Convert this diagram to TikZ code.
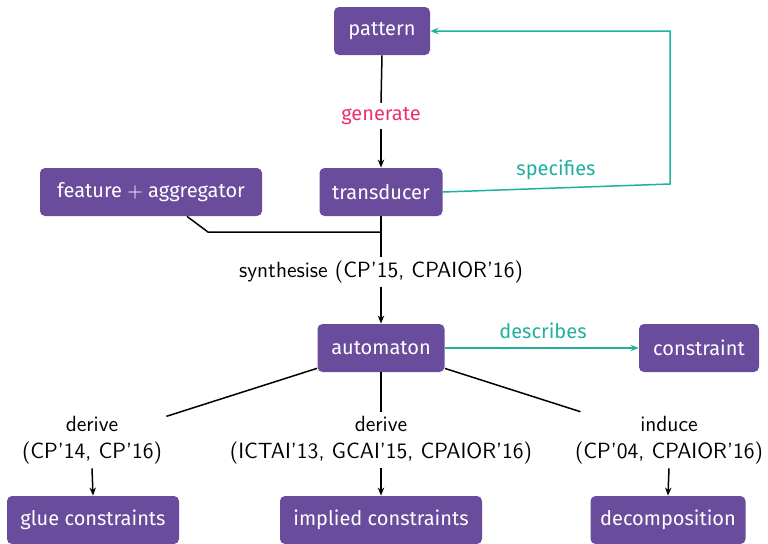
\documentclass[tikz,border=0pt]{standalone}
\usepackage{fontspec}
\newfontfamily\fira{Fira Sans}
\usetikzlibrary{arrows.meta}
\definecolor{purp}{RGB}{106,76,156}
\definecolor{tealc}{RGB}{32,176,158}
\definecolor{pinkc}{RGB}{236,48,108}
\begin{document}
\begin{tikzpicture}[x=0.5pt,y=-0.5pt,
  box/.style={fill=purp, text=white, rounded corners=2.5pt, minimum height=24pt,
    inner xsep=2pt, font=\fira\fontsize{10}{12}\selectfont},
  lbl/.style={font=\sffamily\fontsize{11}{13.5}\selectfont, align=center, inner sep=2pt},
  clbl/.style={font=\fira\fontsize{10}{12}\selectfont, inner sep=2pt},
  arr/.style={-{Stealth[length=4pt,width=3.2pt]}},
  ln/.style={line width=0.75pt, black},
  tl/.style={line width=0.75pt, tealc}]
\useasboundingbox (0,0) rectangle (768,543);
% boxes
\node[box, minimum width=48pt] (pattern) at (382,31) {pattern};
\node[box, minimum width=61.5pt] (trans) at (381,192) {transducer};
\node[box, minimum width=111pt] (feat) at (151,192) {feature $+$ aggregator};
\node[box, minimum width=63.5pt] (auto) at (381,348) {automaton};
\node[box, minimum width=60pt] (cons) at (699,348) {constraint};
\node[box, minimum width=86pt] (glue) at (93,520) {glue constraints};
\node[box, minimum width=101pt] (impl) at (381,520) {implied constraints};
\node[box, minimum width=77.5pt] (decomp) at (668,520) {decomposition};
% labels
\node[clbl, text=pinkc] (gen) at (381,116) {generate};
\node[lbl] (synth) at (381,272) {synthesise (CP'15, CPAIOR'16)};
\node[lbl] (lleft) at (92,440) {derive\\(CP'14, CP'16)};
\node[lbl] (lmid) at (381,440) {derive\\(ICTAI'13, GCAI'15, CPAIOR'16)};
\node[lbl] (lright) at (669,440) {induce\\(CP'04, CPAIOR'16)};
\node[clbl, text=tealc] (spec) at (556,170) {specifies};
\node[clbl, text=tealc] (desc) at (543,331) {describes};
% coordinates
\coordinate (k) at (208,232);
\coordinate (j) at (381,232);
\coordinate (c1) at (670,184);
\coordinate (c2) at (670,31);
% connectors
\draw[ln] (pattern.south) -- (gen.north);
\draw[ln,arr] (gen.south) -- (trans.north);
\draw[ln] (trans.south) -- (synth.north);
\draw[ln] ([xshift=18pt]feat.south) -- (k) -- (j);
\draw[ln,arr] (synth.south) -- (auto.north);
\draw[tl,arr] (auto.east) -- (cons.west);
\draw[tl,arr] (trans.east) -- (c1) -- (c2) -- (pattern.east);
\draw[ln] (auto) -- (lleft);
\draw[ln] (auto) -- (lmid);
\draw[ln] (auto) -- (lright);
\draw[ln,arr] (lleft.south) -- (glue.north);
\draw[ln,arr] (lmid.south) -- (impl.north);
\draw[ln,arr] (lright.south) -- (decomp.north);
\end{tikzpicture}
\end{document}
